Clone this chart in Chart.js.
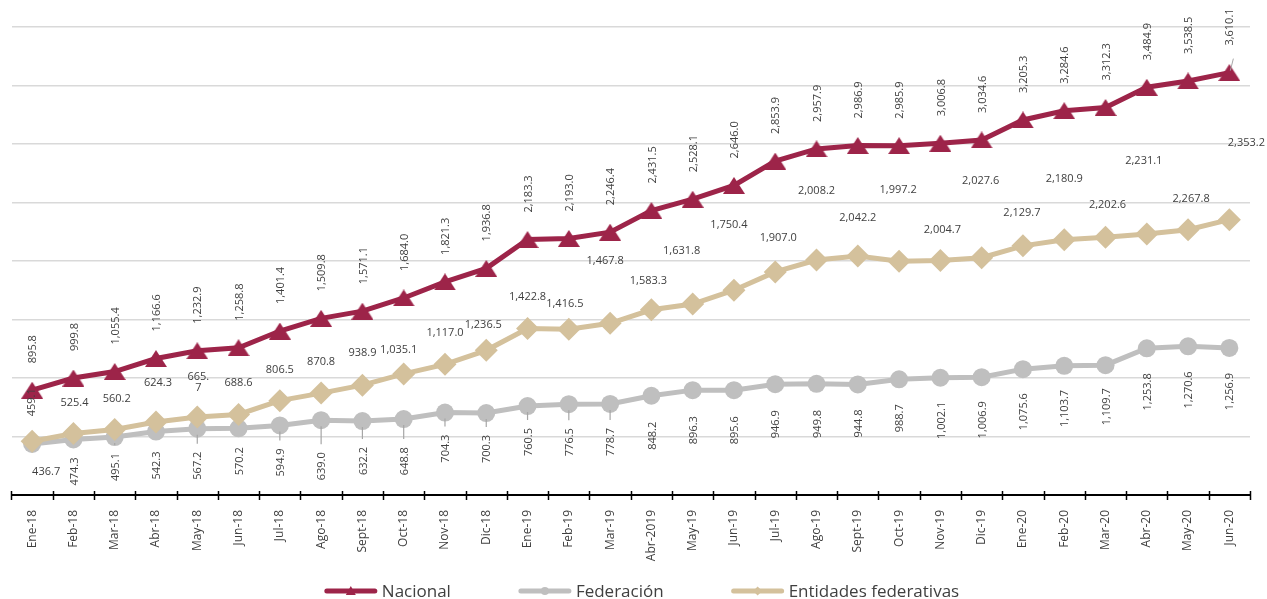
<!DOCTYPE html>
<html>
<head>
<meta charset="utf-8">
<title>Deuda: Nacional, Federación y Entidades federativas</title>
<script src="https://cdn.jsdelivr.net/npm/chart.js@4.4.1/dist/chart.umd.min.js"></script>
<style>
  html, body { margin: 0; padding: 0; background: #ffffff; }
  #wrap { width: 1267px; height: 599px; }
</style>
</head>
<body>
<div id="wrap"><canvas id="chart" width="1267" height="599"></canvas></div>
<script>
// ---- Data -------------------------------------------------------------
const months = [
  'Ene-18', 'Feb-18', 'Mar-18', 'Abr-18', 'May-18', 'Jun-18', 'Jul-18', 'Ago-18',
  'Sept-18', 'Oct-18', 'Nov-18', 'Dic-18', 'Ene-19', 'Feb-19', 'Mar-19', 'Abr-2019',
  'May-19', 'Jun-19', 'Jul-19', 'Ago-19', 'Sept-19', 'Oct-19', 'Nov-19', 'Dic-19',
  'Ene-20', 'Feb-20', 'Mar-20', 'Abr-20', 'May-20', 'Jun-20'
];
const nacional = [
  895.8, 999.8, 1055.4, 1166.6, 1232.9, 1258.8, 1401.4, 1509.8, 1571.1, 1684.0,
  1821.3, 1936.8, 2183.3, 2193.0, 2246.4, 2431.5, 2528.1, 2646.0, 2853.9, 2957.9,
  2986.9, 2985.9, 3006.8, 3034.6, 3205.3, 3284.6, 3312.3, 3484.9, 3538.5, 3610.1
];
const federacion = [
  436.7, 474.3, 495.1, 542.3, 567.2, 570.2, 594.9, 639.0, 632.2, 648.8,
  704.3, 700.3, 760.5, 776.5, 778.7, 848.2, 896.3, 895.6, 946.9, 949.8,
  944.8, 988.7, 1002.1, 1006.9, 1075.6, 1103.7, 1109.7, 1253.8, 1270.6, 1256.9
];
const entidades = [
  459.1, 525.4, 560.2, 624.3, 665.7, 688.6, 806.5, 870.8, 938.9, 1035.1,
  1117.0, 1236.5, 1422.8, 1416.5, 1467.8, 1583.3, 1631.8, 1750.4, 1907.0, 2008.2,
  2042.2, 1997.2, 2004.7, 2027.6, 2129.7, 2180.9, 2202.6, 2231.1, 2267.8, 2353.2
];
const seriesNames = ['Nacional', 'Federación', 'Entidades federativas'];
const yMin = 0, yMax = 4000, yStep = 500;

// ---- Styles -----------------------------------------------------------
const GUINDA = '#9D2449';
const GRIS = '#BFBFBF';
const BEIGE = '#D4C19C';
const TEXT = '#404040';
const FONT = '"Open Sans", "Noto Sans", sans-serif';

// Label placement (pixel offsets from each point)
const nacGap = 27;                    // rotated labels above the Nacional line
const fedGap = [0, 18, 16, 20, 23, 19, 23, 32, 26, 28, 22, 22, 22, 24, 24,
                26, 26, 26, 26, 26, 25, 25, 24, 24, 24, 24, 23, 25, 25, 25];
const fedLeader = [2, 4, 6, 7, 8, 9, 10, 11, 12, 13, 14];
const entOffset = [
  [0, -39], [1, -31], [2, -31], [2, -39], [1, -35], [0, -32], [0, -31], [0, -31],
  [0, -32], [-5, -24], [0, -31], [-3, -25], [0, -32], [-4, -25], [-5, -62], [-3, -29],
  [-11, -53], [-5, -65], [3, -34], [0, -69], [0, -38], [-1, -71], [2, -31], [-1, -77],
  [-1, -33], [0, -61], [2, -32], [-3, -73], [3, -31], [17, -77]
];

function fmt(v) {
  const s = v.toFixed(1);
  const [ip, dp] = s.split('.');
  return ip.replace(/\B(?=(\d{3})+(?!\d))/g, ',') + '.' + dp;
}

function makeTriangle(w, h, color) {
  const c = document.createElement('canvas');
  c.width = w; c.height = h;
  const g = c.getContext('2d');
  g.fillStyle = color;
  g.beginPath();
  g.moveTo(w / 2, 0);
  g.lineTo(w, h);
  g.lineTo(0, h);
  g.closePath();
  g.fill();
  return c;
}
const triangleMarker = makeTriangle(22, 17, GUINDA);

// ---- Plugins ----------------------------------------------------------
const valueLabels = {
  id: 'valueLabels',
  afterDatasetsDraw(chart) {
    const ctx = chart.ctx;
    ctx.save();
    ctx.fillStyle = TEXT;
    ctx.font = '11px ' + FONT;

    // Nacional: rotated, above
    chart.getDatasetMeta(0).data.forEach((p, i) => {
      ctx.save();
      ctx.translate(p.x + 1, p.y - nacGap);
      ctx.rotate(-Math.PI / 2);
      ctx.textAlign = 'left';
      ctx.textBaseline = 'middle';
      ctx.fillText(fmt(nacional[i]), 0, 0);
      ctx.restore();
      if (i === nacional.length - 1) {
        ctx.strokeStyle = '#A6A6A6';
        ctx.lineWidth = 1;
        ctx.beginPath();
        ctx.moveTo(p.x + 4, p.y - 14);
        ctx.lineTo(p.x + 1, p.y - 2);
        ctx.stroke();
      }
    });

    // Federación: rotated, below
    chart.getDatasetMeta(1).data.forEach((p, i) => {
      if (i === 0) {
        ctx.textAlign = 'center';
        ctx.textBaseline = 'middle';
        ctx.fillText(fmt(federacion[i]), p.x + 14, p.y + 28);
        return;
      }
      if (fedLeader.includes(i)) {
        ctx.strokeStyle = '#A6A6A6';
        ctx.lineWidth = 1.2;
        ctx.beginPath();
        ctx.moveTo(p.x, p.y + 6);
        ctx.lineTo(p.x, p.y + fedGap[i] - 8);
        ctx.stroke();
      }
      ctx.save();
      ctx.translate(p.x + 1, p.y + fedGap[i]);
      ctx.rotate(-Math.PI / 2);
      ctx.textAlign = 'right';
      ctx.textBaseline = 'middle';
      ctx.fillText(fmt(federacion[i]), 0, 0);
      ctx.restore();
    });

    // Entidades federativas: horizontal, above
    chart.getDatasetMeta(2).data.forEach((p, i) => {
      const [dx, dy] = entOffset[i];
      const txt = fmt(entidades[i]);
      ctx.textAlign = 'center';
      ctx.textBaseline = 'middle';
      if (i === 0) {
        ctx.save();
        ctx.translate(p.x + dx, p.y + dy);
        ctx.rotate(-Math.PI / 2);
        ctx.fillText(txt, 0, 0);
        ctx.restore();
      } else if (i === 4) {
        ctx.fillText(txt.slice(0, 4), p.x + dx, p.y + dy - 5.5);
        ctx.fillText(txt.slice(4), p.x + dx, p.y + dy + 5.5);
      } else {
        ctx.fillText(txt, p.x + dx, p.y + dy);
      }
    });
    ctx.restore();
  }
};

const axisTicks = {
  id: 'axisTicks',
  afterDraw(chart) {
    const x = chart.scales.x;
    const ctx = chart.ctx;
    const w = x.getPixelForValue(1) - x.getPixelForValue(0);
    const start = x.getPixelForValue(0) - w / 2;
    const yb = chart.chartArea.bottom;
    ctx.save();
    ctx.strokeStyle = '#000000';
    ctx.lineWidth = 1.5;
    for (let i = 0; i <= months.length; i++) {
      const px = Math.round(start + i * w) + 0.5;
      ctx.beginPath();
      ctx.moveTo(px, yb - 4);
      ctx.lineTo(px, yb + 5);
      ctx.stroke();
    }
    ctx.restore();
  }
};

const lineLegend = {
  id: 'lineLegend',
  afterDraw(chart) {
    const ctx = chart.ctx;
    const ds = chart.data.datasets;
    const lineLen = 52, gap = 5, spacing = 68, y = 591;
    ctx.save();
    ctx.font = '17px ' + FONT;
    const widths = ds.map(d => lineLen + gap + ctx.measureText(d.label).width);
    const total = widths.reduce((a, b) => a + b, 0) + spacing * (ds.length - 1);
    let x = 642 - total / 2;
    ds.forEach((d, i) => {
      ctx.strokeStyle = d.borderColor;
      ctx.lineWidth = 5;
      ctx.lineCap = 'round';
      ctx.beginPath();
      ctx.moveTo(x + 2, y);
      ctx.lineTo(x + lineLen - 2, y);
      ctx.stroke();
      const cx = x + lineLen / 2;
      ctx.fillStyle = d.borderColor;
      ctx.beginPath();
      if (i === 0) {
        ctx.moveTo(cx, y - 5); ctx.lineTo(cx + 5, y + 4); ctx.lineTo(cx - 5, y + 4);
      } else if (i === 1) {
        ctx.arc(cx, y, 4, 0, Math.PI * 2);
      } else {
        ctx.moveTo(cx, y - 4.5); ctx.lineTo(cx + 4.5, y); ctx.lineTo(cx, y + 4.5); ctx.lineTo(cx - 4.5, y);
      }
      ctx.closePath();
      ctx.fill();
      ctx.fillStyle = TEXT;
      ctx.textAlign = 'left';
      ctx.textBaseline = 'middle';
      ctx.fillText(d.label, x + lineLen + gap, y + 1);
      x += widths[i] + spacing;
    });
    ctx.restore();
  }
};

// ---- Chart ------------------------------------------------------------
new Chart(document.getElementById('chart'), {
  type: 'line',
  data: {
    labels: months,
    datasets: [
      {
        label: seriesNames[0], data: nacional, order: 0,
        borderColor: GUINDA, backgroundColor: GUINDA, borderWidth: 5,
        pointStyle: triangleMarker, pointRadius: 11, pointBorderWidth: 0, tension: 0
      },
      {
        label: seriesNames[1], data: federacion, order: 2,
        borderColor: GRIS, backgroundColor: GRIS, borderWidth: 5,
        pointStyle: 'circle', pointRadius: 9, pointBorderWidth: 0, tension: 0
      },
      {
        label: seriesNames[2], data: entidades, order: 1,
        borderColor: BEIGE, backgroundColor: BEIGE, borderWidth: 5,
        pointStyle: 'rectRot', pointRadius: 11.5, pointBorderWidth: 0, tension: 0
      }
    ]
  },
  options: {
    responsive: false,
    devicePixelRatio: 1,
    animation: false,
    layout: { padding: { left: 11, right: 17, top: 27, bottom: 29 } },
    plugins: {
      legend: { display: false },
      tooltip: { enabled: false },
      title: { display: false }
    },
    scales: {
      x: {
        offset: true,
        grid: { display: false },
        border: { display: true, color: '#000000', width: 2 },
        ticks: {
          autoSkip: false, minRotation: 90, maxRotation: 90, padding: 7,
          color: TEXT, font: { family: FONT, size: 12 }
        },
        afterFit: (s) => { s.height = 75; }
      },
      y: {
        min: yMin, max: yMax,
        ticks: { stepSize: yStep, display: false },
        grid: { color: '#D9D9D9', lineWidth: 1.5, drawTicks: false },
        border: { display: false }
      }
    }
  },
  plugins: [valueLabels, axisTicks, lineLegend]
});
</script>
</body>
</html>
